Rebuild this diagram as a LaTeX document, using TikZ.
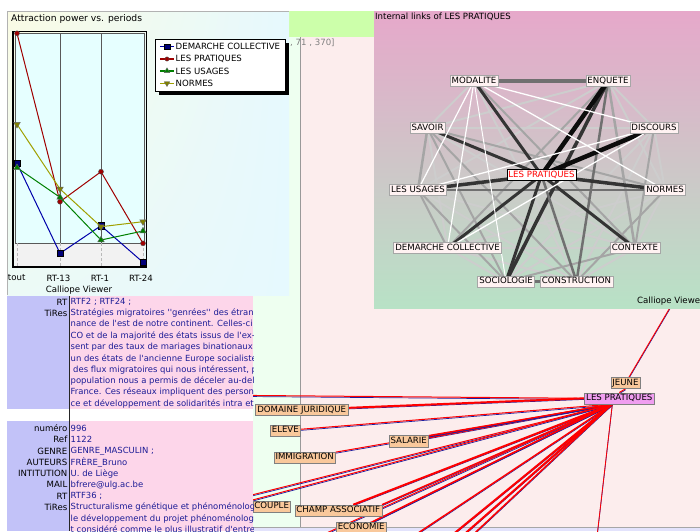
\documentclass[tikz,border=0pt]{standalone}
\usepackage{fontspec}
\newfontfamily\uifont{DejaVu Sans}
\usetikzlibrary{shapes.geometric,shadings}
\definecolor{lavcol}{RGB}{194,194,248}
\definecolor{recpink}{RGB}{253,214,234}
\definecolor{mint}{RGB}{238,255,240}
\definecolor{blush}{RGB}{252,237,237}
\definecolor{lime}{RGB}{204,255,170}
\definecolor{ink}{RGB}{28,28,150}
\definecolor{peach}{RGB}{249,200,155}
\definecolor{orchid}{RGB}{240,158,240}
\definecolor{lnred}{RGB}{255,0,0}
\definecolor{lnblue}{RGB}{30,30,160}
\definecolor{dcblue}{RGB}{0,0,170}
\definecolor{lpred}{RGB}{160,0,0}
\definecolor{usgreen}{RGB}{0,128,0}
\definecolor{noolive}{RGB}{160,160,0}
\definecolor{cream}{RGB}{250,251,228}
\definecolor{icecyan}{RGB}{230,249,254}
\definecolor{plotcyan}{RGB}{230,255,255}
\definecolor{netpink}{RGB}{230,168,202}
\definecolor{netmid}{RGB}{214,200,202}
\definecolor{netgreen}{RGB}{184,226,198}
\definecolor{netfill}{RGB}{255,242,242}
\definecolor{lk1}{RGB}{205,205,205}
\definecolor{lk2}{RGB}{165,165,165}
\definecolor{lk3}{RGB}{112,112,112}
\definecolor{lk4}{RGB}{52,52,52}
\definecolor{lk5}{RGB}{12,12,12}
\pgfdeclarelayer{bg}
\pgfdeclarelayer{lowedges}
\pgfdeclarelayer{panels}
\pgfdeclarelayer{netedges}
\pgfsetlayers{bg,lowedges,panels,netedges,main}
\tikzset{
  txt/.style={font=\uifont\fontsize{8.6}{10}\selectfont, inner sep=1pt},
  lbl/.style={txt, anchor=east},
  val/.style={txt, font=\uifont\fontsize{8.45}{10}\selectfont, anchor=west, text=ink},
  netnode/.style={txt, fill=netfill, draw=gray!70, inner sep=1.6pt, text height=6.4pt, text depth=1.6pt},
  lownode/.style={netnode, fill=peach, draw=gray},
  linkpair/.style={draw=lnred, line width=#1,
    preaction={draw=lnblue, line width=0.7pt, transform canvas={yshift=-1.1pt}}},
  linkpair/.default=1pt,
  sqmark/.style={rectangle, minimum size=6.5pt, inner sep=0pt, fill=dcblue!70!black, draw=black, line width=0.4pt},
  dotmark/.style={circle, minimum size=5pt, inner sep=0pt, fill=lpred, draw=black!70, line width=0.4pt},
  upmark/.style={regular polygon, regular polygon sides=3, minimum size=7.5pt, inner sep=0pt, fill=usgreen, draw=black!60, line width=0.4pt},
  dnmark/.style={upmark, shape border rotate=180, fill=noolive!80!black}
}
\begin{document}
\begin{tikzpicture}[x=1pt,y=-1pt]
\useasboundingbox (0,0) rectangle (700,531);
% backgrounds of the window
\begin{pgfonlayer}{bg}
  \fill[white] (0,0) rectangle (700,531);
  \fill[mint] (253,37) rectangle (300,527);
  \fill[blush] (300,37) rectangle (700,527);
  \fill[lavcol!45] (253,527) rectangle (700,531);
  \draw[gray!70] (253,527) -- (700,527);
  \draw[gray!80] (300,37) -- (300,527);
  \fill[lime] (288,11) rectangle (374,37);
  \node[txt, anchor=west, text=gray] (crd) at (289,43) {, 71 , 370]};
\end{pgfonlayer}

% lower network
\node[lownode] (dj) at (301.7,409.7) {DOMAINE JURIDIQUE};
\node[lownode] (elv) at (285.3,430.5) {ELEVE};
\node[lownode] (sal) at (408.7,441.2) {SALARIE};
\node[lownode] (imm) at (304.7,457.5) {IMMIGRATION};
\node[lownode] (jeu) at (625.5,383) {JEUNE};
\node[lownode, fill=orchid] (lpl) at (619.3,398.3) {LES PRATIQUES};
\node[lownode] (cpl) at (271.7,506.3) {COUPLE};
\node[lownode] (cha) at (338.3,510.5) {CHAMP ASSOCIATIF};
\node[lownode] (eco) at (361.2,527.5) {ECONOMIE};
\coordinate (hub) at ([xshift=-7pt]lpl.south);
\foreach \n/\xx/\yy in {1/200/395, 2/200/508, 3/200/514, 4/300/545, 5/325/545, 6/400/545,
    7/440/545, 8/452/545, 9/462/545, 10/596/545, 11/691/272}
  \coordinate (fe\n) at (\xx,\yy);
\begin{pgfonlayer}{lowedges}
  \draw[linkpair] (lpl.west) -- (fe1);
  \draw[linkpair=2pt] (lpl.west) -- (dj);
  \foreach \t/\w in {elv/1, sal/1.8, sal.north east/1, imm/1, fe2/1, fe3/1, cha/2,
      cha.north east/1.5, eco/1.2, fe4/1, fe5/1.5, fe6/1.5, fe7/2, fe8/2, fe9/1.5, fe10/0.8}
    \draw[linkpair=\w pt] (hub) -- (\t);
  \draw[linkpair] (jeu.south) -- (lpl.north);
  \draw[linkpair=0.9pt] (jeu) -- (fe11);
\end{pgfonlayer}

% records
\begin{pgfonlayer}{panels}
  \fill[lavcol] (7,296) rectangle (69,408.5);
  \fill[recpink] (69,296) rectangle (253,408.5);
  \fill[lavcol] (7,421) rectangle (69,531);
  \fill[recpink] (69,421) rectangle (253,531);
  \draw[black!85, line width=1pt] (69,296) -- (69,531);
\end{pgfonlayer}
\node[lbl] (rt1) at (68.5,302) {RT};
\node[lbl] (tr1) at (68.5,313.3) {TiRes};
\begin{scope}
  \clip (69,290) rectangle (253,531);
  \node[val] (rt1v) at (69.5,302) {RTF2 ; RTF24 ;};
  \foreach \i/\t in {0/{Stratégies migratoires \textquotesingle\textquotesingle genrées\textquotesingle\textquotesingle\ des étrange},
      1/{nance de l'est de notre continent. Celles-ci p},
      2/{CO et de la majorité des états issus de l'ex-U},
      3/{sent par des taux de mariages binationaux tr},
      4/{un des états de l'ancienne Europe socialiste},
      5/{\hspace*{2.5pt}des flux migratoires qui nous intéressent, plu},
      6/{population nous a permis de déceler au-delà},
      7/{France. Ces réseaux impliquent des personn},
      8/{ce et développement de solidarités intra et ir}}
    \node[val] (ta\i) at (69.5,313.3+11.3*\i) {\t};
  \foreach \i/\t in {0/996, 1/1122, 2/{GENRE\_MASCULIN ;}, 3/FRÈRE\_Bruno,
      4/U. de Liège, 5/bfrere@ulg.ac.be, 6/{RTF36 ;},
      7/{Structuralisme génétique et phénoménologie}, 8/{le développement du projet phénoménologic},
      9/{t considéré comme le plus illustratif d'entre e}}
    \node[val] (tb\i) at (69.5,428.3+11.3*\i) {\t};
\end{scope}
\foreach \i/\l in {0/numéro, 1/Ref, 2/GENRE, 3/AUTEURS, 4/INTITUTION, 5/MAIL, 6/RT, 7/TiRes}
  \node[lbl] (lb\i) at (68.5,428.3+11.3*\i) {\l};

% chart panel
\begin{pgfonlayer}{panels}
  \shade[upper left=cream, upper right=icecyan, lower left=icecyan!70!cream, lower right=icecyan]
    (7,11.5) rectangle (289,295);
  \draw[gray!60] (7,295) -- (7,11.5) -- (289,11.5);
\end{pgfonlayer}
\node[txt, font=\uifont\fontsize{9.2}{11}\selectfont, anchor=west] (ctitle) at (10,18.5) {Attraction power vs. periods};
\fill[plotcyan] (15,33) rectangle (144,243);
\fill[gray!10] (15,243) rectangle (144,266);
\draw[gray!70!black, line width=1pt] (60,33) -- (60,243) (101,33) -- (101,243);
\draw[gray!70!black] (15,33) rectangle (144,243);
\foreach \xx in {17,60,101,143}
  \draw[gray!55, densely dashed] (\xx,243) -- (\xx,266);
\draw[black, line width=1.4pt] (13,31.5) rectangle (146.5,267);
\foreach \s/\col/\mk/\a/\b/\c/\d in {1/dcblue/sqmark/163.3/253.3/225.7/262.3,
    2/lpred/dotmark/33.3/201.7/171.7/243.3,
    3/usgreen/upmark/167.7/197.3/240/231,
    4/noolive/dnmark/124.3/189/226.7/221.7}{
  \draw[\col, line width=1pt] (17,\a) -- (60,\b) -- (101,\c) -- (143,\d);
  \foreach \j/\xx/\yy in {1/17/\a, 2/60/\b, 3/101/\c, 4/143/\d}
    \node[\mk] (m\s\j) at (\xx,\yy) {};
}
\foreach \j/\xx/\t in {1/16.7/tout, 2/58.5/RT-13, 3/100/RT-1, 4/141/RT-24}
  \node[txt] (xl\j) at (\xx,278) {\t};
\node[txt] (cv1) at (79,290) {Calliope Viewer};
% legend
\fill[black] (158.5,42.5) rectangle (288.5,94.5);
\draw[black, fill=white] (155,39) rectangle (285,91);
\foreach \s/\col/\mk/\nm/\yy in {1/dcblue/sqmark/DEMARCHE COLLECTIVE/46.7, 2/lpred/dotmark/LES PRATIQUES/59,
    3/usgreen/upmark/LES USAGES/71, 4/noolive/dnmark/NORMES/83.3}{
  \draw[\col, line width=1.2pt] (160,\yy) -- (174,\yy);
  \node[\mk, scale=0.85] (lm\s) at (167,\yy) {};
  \node[txt, anchor=west] (lt\s) at (174.5,\yy) {\nm};
}

% internal links panel
\begin{pgfonlayer}{panels}
  \shade[top color=netpink, middle color=netmid, bottom color=netgreen] (374,11) rectangle (700,308);
\end{pgfonlayer}
\node[txt, anchor=west] (ntitle) at (374,17) {Internal links of LES PRATIQUES};
\node[txt, anchor=west] (cv2) at (636,301) {Calliope Viewer};
\node[netnode] (mod) at (474,81) {MODALITE};
\node[netnode] (enq) at (608,81) {ENQUETE};
\node[netnode] (sav) at (427.5,128) {SAVOIR};
\node[netnode] (dis) at (654,128) {DISCOURS};
\node[netnode] (usa) at (418,190) {LES USAGES};
\node[netnode] (nor) at (665,190) {NORMES};
\node[netnode, fill=white, draw=black, text=red] (lpn) at (541.5,175) {LES PRATIQUES};
\node[netnode] (dem) at (447.5,248) {DEMARCHE COLLECTIVE};
\node[netnode] (ctx) at (635,248) {CONTEXTE};
\node[netnode] (soc) at (506,281.5) {SOCIOLOGIE};
\node[netnode] (cns) at (576.5,281.5) {CONSTRUCTION};
\begin{pgfonlayer}{netedges}
  \foreach \a/\b/\c/\w in {mod/sav/lk1/2, sav/dis/lk1/1.5, dem/ctx/lk1/1.5, enq/dis/lk1/2,
      dis/nor/lk1/2, nor/ctx/lk1/2, dem/soc/lk1/2, ctx/cns/lk1/2, enq/nor/lk1/2, enq/usa/lk1/2,
      enq/sav/lk1/2, dis/soc/lk1/2, dis/cns/lk1/2, nor/soc/lk1/2, nor/dem/lk1/2, sav/ctx/lk1/2,
      sav/dem/lk1/2, usa/ctx/lk1/2, usa/cns/lk1/2, dem/cns/lk1/2, mod/cns/lk1/2,
      sav/usa/lk2/2.5, usa/dem/lk2/2, enq/ctx/lk2/2.5, enq/dem/lk2/2, dis/ctx/lk2/2, nor/cns/lk2/2,
      sav/nor/lk2/2, sav/cns/lk2/2, sav/soc/lk2/2, usa/soc/lk2/2, ctx/soc/lk2/2, mod/ctx/lk2/2,
      usa/nor/lk3/2.5, mod/enq/lk3/3.5, soc/cns/lk3/3, enq/cns/lk3/2.5,
      enq/soc/lk4/3.5, lpn/cns/lk3/2.5, lpn/nor/lk4/3.5, lpn/usa/lk4/3.5, lpn/dem/lk4/3,
      lpn/soc/lk4/3, lpn/ctx/lk4/3, lpn/mod/lk4/3, lpn/sav/lk4/3, lpn/enq/lk5/4.5, lpn/dis/lk5/4.5,
      mod/dis/white/1.3, mod/nor/white/1.3, mod/usa/white/1.2, mod/dem/white/1.2,
      mod/soc/white/1, dis/usa/white/1.3, dis/dem/white/1.3}
    \draw[\c, line width=\w] (\a.center) -- (\b.center);
\end{pgfonlayer}
\end{tikzpicture}
\end{document}
